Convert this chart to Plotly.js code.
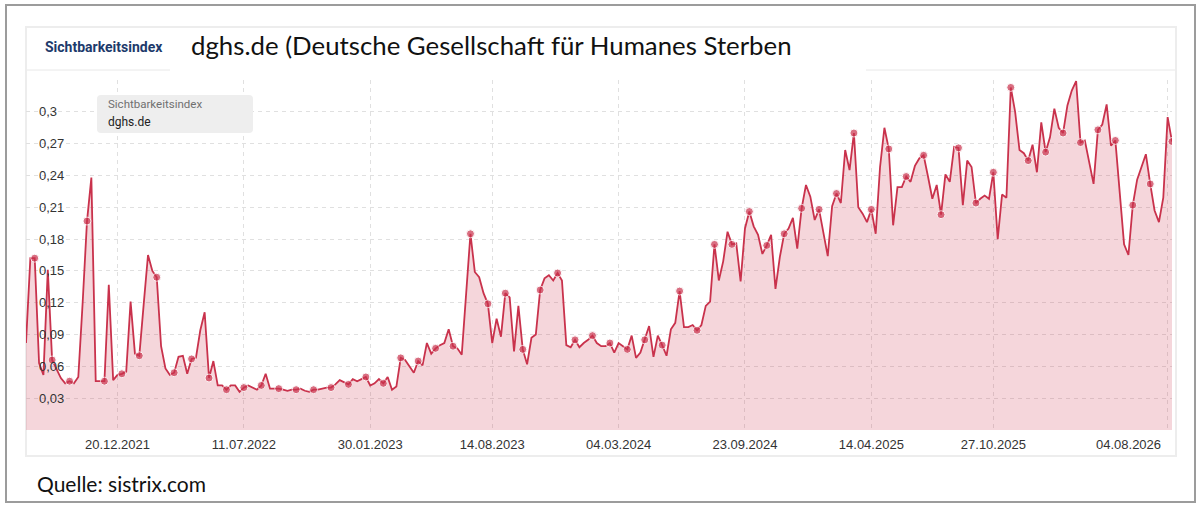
<!DOCTYPE html>
<html>
<head>
<meta charset="utf-8">
<script src="https://cdn.plot.ly/plotly-3.0.1.min.js"></script>
<style>
  html, body { margin: 0; padding: 0; background: #fff; }
  #chart { width: 1200px; height: 507px; }
</style>
</head>
<body>
<div id="chart"></div>
<script>
// weekly Sichtbarkeitsindex values for dghs.de
const values = [
    0.082, 0.162, 0.162, 0.063, 0.052, 0.151, 0.066, 0.057, 0.049, 0.044,
    0.046, 0.044, 0.050, 0.120, 0.197, 0.238, 0.046, 0.046, 0.046, 0.137,
    0.047, 0.052, 0.053, 0.055, 0.121, 0.072, 0.070, 0.118, 0.165, 0.150,
    0.144, 0.079, 0.058, 0.052, 0.054, 0.069, 0.070, 0.053, 0.067, 0.068,
    0.094, 0.111, 0.049, 0.065, 0.042, 0.042, 0.038, 0.042, 0.042, 0.036,
    0.040, 0.042, 0.040, 0.038, 0.042, 0.053, 0.039, 0.039, 0.039, 0.038,
    0.037, 0.038, 0.038, 0.039, 0.037, 0.036, 0.038, 0.038, 0.039, 0.040,
    0.040, 0.043, 0.047, 0.045, 0.043, 0.048, 0.046, 0.048, 0.050, 0.042,
    0.044, 0.048, 0.044, 0.050, 0.038, 0.041, 0.068, 0.066, 0.060, 0.054,
    0.065, 0.061, 0.082, 0.072, 0.077, 0.080, 0.082, 0.095, 0.079, 0.077,
    0.071, 0.125, 0.185, 0.149, 0.144, 0.129, 0.119, 0.082, 0.105, 0.088,
    0.129, 0.125, 0.074, 0.117, 0.076, 0.062, 0.087, 0.090, 0.132, 0.143,
    0.146, 0.141, 0.148, 0.141, 0.080, 0.078, 0.085, 0.078, 0.082, 0.085,
    0.089, 0.082, 0.079, 0.079, 0.082, 0.073, 0.082, 0.079, 0.076, 0.089,
    0.068, 0.073, 0.085, 0.098, 0.069, 0.089, 0.080, 0.070, 0.095, 0.101,
    0.131, 0.097, 0.097, 0.099, 0.094, 0.099, 0.117, 0.121, 0.175, 0.141,
    0.159, 0.187, 0.175, 0.176, 0.140, 0.190, 0.206, 0.192, 0.184, 0.166,
    0.174, 0.184, 0.133, 0.163, 0.185, 0.190, 0.200, 0.171, 0.209, 0.231,
    0.220, 0.198, 0.208, 0.185, 0.164, 0.211, 0.223, 0.214, 0.264, 0.245,
    0.280, 0.210, 0.204, 0.196, 0.208, 0.185, 0.248, 0.285, 0.265, 0.193,
    0.229, 0.229, 0.239, 0.234, 0.249, 0.256, 0.259, 0.239, 0.218, 0.231,
    0.203, 0.241, 0.234, 0.267, 0.266, 0.212, 0.254, 0.248, 0.214, 0.218,
    0.221, 0.218, 0.243, 0.180, 0.222, 0.219, 0.323, 0.300, 0.264, 0.261,
    0.254, 0.269, 0.243, 0.290, 0.262, 0.276, 0.303, 0.285, 0.280, 0.306,
    0.320, 0.329, 0.271, 0.273, 0.251, 0.232, 0.283, 0.288, 0.307, 0.268,
    0.273, 0.220, 0.175, 0.165, 0.212, 0.236, 0.248, 0.260, 0.232, 0.207,
    0.196, 0.219, 0.295, 0.272
];

// week index of each date label on the x axis
const xTickIdx = [21, 50, 79, 107, 136, 165, 194, 222, 262];
const xTickText = ['20.12.2021', '11.07.2022', '30.01.2023', '14.08.2023', '04.03.2024',
    '23.09.2024', '14.04.2025', '27.10.2025', '04.08.2026'];

const yTickVals = [0.03, 0.06, 0.09, 0.12, 0.15, 0.18, 0.21, 0.24, 0.27, 0.3];
const yTickText = ['0,03', '0,06', '0,09', '0,12', '0,15', '0,18', '0,21', '0,24', '0,27', '0,3'];

const TITLE = 'dghs.de (Deutsche Gesellschaft für Humanes Sterben';
const SOURCE = 'Quelle: sistrix.com';

const W = 1200, H = 507;
const M = { l: 26, r: 28, t: 80, b: 77 };
const plotW = W - M.l - M.r;
const plotH = H - M.t - M.b;

// page pixel -> paper coords
const px = (x) => (x - M.l) / plotW;
const py = (y) => (H - M.b - y) / plotH;

const LINE = '#c9324c';
const last = values.length - 1;

const weeks = values.map((_, i) => i);
// sistrix puts a dot on every 4th week plus the latest value
const markerSize = values.map((_, i) => ((i % 4 === 2 && i < last - 1) || i === last) ? 8 : 0);

const traces = [{
    x: weeks,
    y: values,
    type: 'scatter',
    mode: 'lines+markers',
    line: { color: LINE, width: 1.8 },
    marker: { color: LINE, size: markerSize, line: { color: '#fff', width: 1 } },
    fill: 'tozeroy',
    fillcolor: 'rgba(204,51,77,0.2)',
    hoverinfo: 'skip',
    showlegend: false,
}];

const roundRect = (x0, y0, x1, y1, r) => {
    const a = px(x0), b = px(x1), c = py(y0), d = py(y1);
    const rx = r / plotW, ry = r / plotH;
    return `M ${a + rx} ${c} L ${b - rx} ${c} Q ${b} ${c} ${b} ${c - ry} ` +
        `L ${b} ${d + ry} Q ${b} ${d} ${b - rx} ${d} L ${a + rx} ${d} ` +
        `Q ${a} ${d} ${a} ${d + ry} L ${a} ${c - ry} Q ${a} ${c} ${a + rx} ${c} Z`;
};

const shapes = [
    // outer frame of the screenshot
    { type: 'rect', xref: 'paper', yref: 'paper', layer: 'below',
      x0: px(6), x1: px(1195), y0: py(5), y1: py(502),
      line: { color: '#9c9c9c', width: 2 } },
    // card of the sistrix widget
    { type: 'rect', xref: 'paper', yref: 'paper', layer: 'below',
      x0: px(26), x1: px(1176), y0: py(27), y1: py(456),
      line: { color: '#ededed', width: 2 }, fillcolor: '#fff' },
    // tab underline
    { type: 'line', xref: 'paper', yref: 'paper', layer: 'below',
      x0: px(27), x1: px(170), y0: py(70), y1: py(70),
      line: { color: '#e8e8e8', width: 1 } },
    { type: 'line', xref: 'paper', yref: 'paper', layer: 'below',
      x0: px(866), x1: px(1175), y0: py(70), y1: py(70),
      line: { color: '#e8e8e8', width: 1 } },
    // tooltip box
    { type: 'path', xref: 'paper', yref: 'paper', layer: 'above',
      path: roundRect(97, 95, 253, 133, 4),
      fillcolor: '#eeeeee', line: { width: 0 } },
];

const annotations = [
    { text: '<b>Sichtbarkeitsindex</b>', xref: 'paper', yref: 'paper',
      x: px(104), y: py(47), xanchor: 'center', yanchor: 'middle', showarrow: false,
      font: { family: 'Roboto, Arial, sans-serif', size: 14, color: '#1d3a6b' } },
    { text: TITLE, xref: 'paper', yref: 'paper',
      x: px(189), y: py(45), xanchor: 'left', yanchor: 'middle', showarrow: false,
      font: { family: 'Lato, "Open Sans", sans-serif', size: 25.8, color: '#111' } },
    { text: 'Sichtbarkeitsindex', xref: 'paper', yref: 'paper',
      x: px(106), y: py(104), xanchor: 'left', yanchor: 'middle', showarrow: false,
      font: { family: 'Roboto, Arial, sans-serif', size: 11.5, color: '#707070' } },
    { text: 'dghs.de', xref: 'paper', yref: 'paper',
      x: px(106), y: py(122), xanchor: 'left', yanchor: 'middle', showarrow: false,
      font: { family: 'Roboto, Arial, sans-serif', size: 12, color: '#222' } },
    { text: SOURCE, xref: 'paper', yref: 'paper',
      x: px(35), y: py(483), xanchor: 'left', yanchor: 'middle', showarrow: false,
      font: { family: 'Lato, "Open Sans", sans-serif', size: 21, color: '#111' } },
    // last date label is pulled left so it stays inside the card
    { text: xTickText[xTickText.length - 1], xref: 'paper', yref: 'paper',
      x: px(1163), y: py(444), xanchor: 'right', yanchor: 'middle', showarrow: false,
      font: { family: '"Liberation Sans", Arial, sans-serif', size: 13, color: '#333' } },
];

const layout = {
    width: W,
    height: H,
    margin: { l: M.l, r: M.r, t: M.t, b: M.b, pad: 0 },
    paper_bgcolor: '#fff',
    plot_bgcolor: 'rgba(0,0,0,0)',
    separators: ',.',
    showlegend: false,
    xaxis: {
        range: [0, last],
        tickmode: 'array',
        tickvals: xTickIdx,
        ticktext: xTickText.map((t, i) => i === xTickText.length - 1 ? '' : t),
        showgrid: true,
        gridcolor: '#e0e0e0',
        griddash: '4px,4px',
        gridwidth: 1,
        zeroline: false,
        showline: false,
        ticks: '',
        ticklabelstandoff: 5,
        tickfont: { family: '"Liberation Sans", Arial, sans-serif', size: 13, color: '#333' },
        fixedrange: true,
    },
    yaxis: {
        range: [0, 0.33],
        tickmode: 'array',
        tickvals: yTickVals,
        ticktext: yTickText,
        ticklabelposition: 'inside',
        ticklabelstandoff: 10,
        showgrid: true,
        gridcolor: '#e0e0e0',
        griddash: '4px,4px',
        gridwidth: 1,
        zeroline: false,
        showline: false,
        ticks: '',
        tickfont: { family: '"Liberation Sans", Arial, sans-serif', size: 13, color: '#333' },
        fixedrange: true,
    },
    shapes,
    annotations,
};

Plotly.newPlot('chart', traces, layout, { displayModeBar: false, staticPlot: true });
</script>
</body>
</html>
